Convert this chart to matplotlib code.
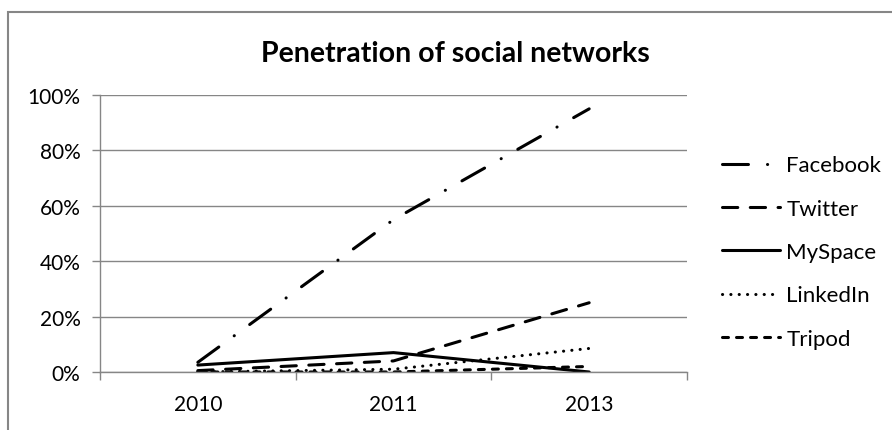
import matplotlib
matplotlib.use("Agg")
import matplotlib.pyplot as plt
from matplotlib.patches import Rectangle
from matplotlib.ticker import FixedLocator, PercentFormatter

plt.rcParams['font.family'] = ['Lato', 'DejaVu Sans']
plt.rcParams['lines.scale_dashes'] = False

# Data
years = ['2010', '2011', '2013']
facebook = [3.5, 55, 95]
twitter = [0.5, 4, 25]
myspace = [2.5, 7, 0]
linkedin = [0, 1, 8.5]
tripod = [0, 0, 2]

series = [
    ('Facebook', facebook, (0, (18.7, 13.7, 0.1, 13.7))),
    ('Twitter', twitter, (0, (11, 9))),
    ('MySpace', myspace, '-'),
    ('LinkedIn', linkedin, (0, (0.1, 5.9))),
    ('Tripod', tripod, (0, (4.3, 5.8))),
]

W, H = 892, 431
fig = plt.figure(figsize=(W / 100, H / 100), dpi=100)
fig.patch.set_facecolor('white')

# Chart area outline
fig.add_artist(Rectangle((7.5 / W, -0.2), 2, 1.2 - 12.5 / H, transform=fig.transFigure,
                         fill=False, edgecolor='#868686', linewidth=1.5))

left, right, top, bottom = 100, 687, 96, 373
ax = fig.add_axes([left / W, 1 - bottom / H, (right - left) / W, (bottom - top) / H])

grid_color = '#868686'
xpos = [i + 0.5 for i in range(len(years))]
for name, vals, ls in series:
    ax.plot(xpos, [v / 100 for v in vals], color='black', linewidth=2.2,
            linestyle=ls, dash_capstyle='round', solid_capstyle='round',
            solid_joinstyle='round', label=name)

ax.set_xlim(0, len(years))
ax.set_ylim(0, 1)
ax.yaxis.set_major_locator(FixedLocator([0, 0.2, 0.4, 0.6, 0.8, 1.0]))
ax.yaxis.set_major_formatter(PercentFormatter(1.0, decimals=0))
ax.grid(axis='y', color=grid_color, linewidth=1.0)
ax.set_axisbelow(True)

ax.set_xticks(range(len(years) + 1))
ax.set_xticklabels([])
ax.set_xticks(xpos, minor=True)
ax.set_xticklabels(years, minor=True)
ax.tick_params(axis='x', which='major', length=6, width=1, color=grid_color, direction='out')
ax.tick_params(axis='x', which='minor', length=0, pad=16, labelsize=15)
ax.tick_params(axis='y', length=6, width=1, color=grid_color, direction='out', pad=8, labelsize=15)

for side in ('top', 'right'):
    ax.spines[side].set_visible(False)
for side in ('left', 'bottom'):
    ax.spines[side].set_color(grid_color)
    ax.spines[side].set_linewidth(1.0)

fig.text(455 / W, 1 - 54 / H, 'Penetration of social networks', ha='center', va='center',
         fontsize=20.5, fontweight='bold')

ax.legend(loc='center left', bbox_to_anchor=(722 / W, 1 - 253 / H),
          bbox_transform=fig.transFigure, frameon=False, fontsize=16,
          handlelength=2.6, handletextpad=0.3, labelspacing=1.05, borderpad=0,
          borderaxespad=0)

fig.savefig('out.png', dpi=100, facecolor='white')
